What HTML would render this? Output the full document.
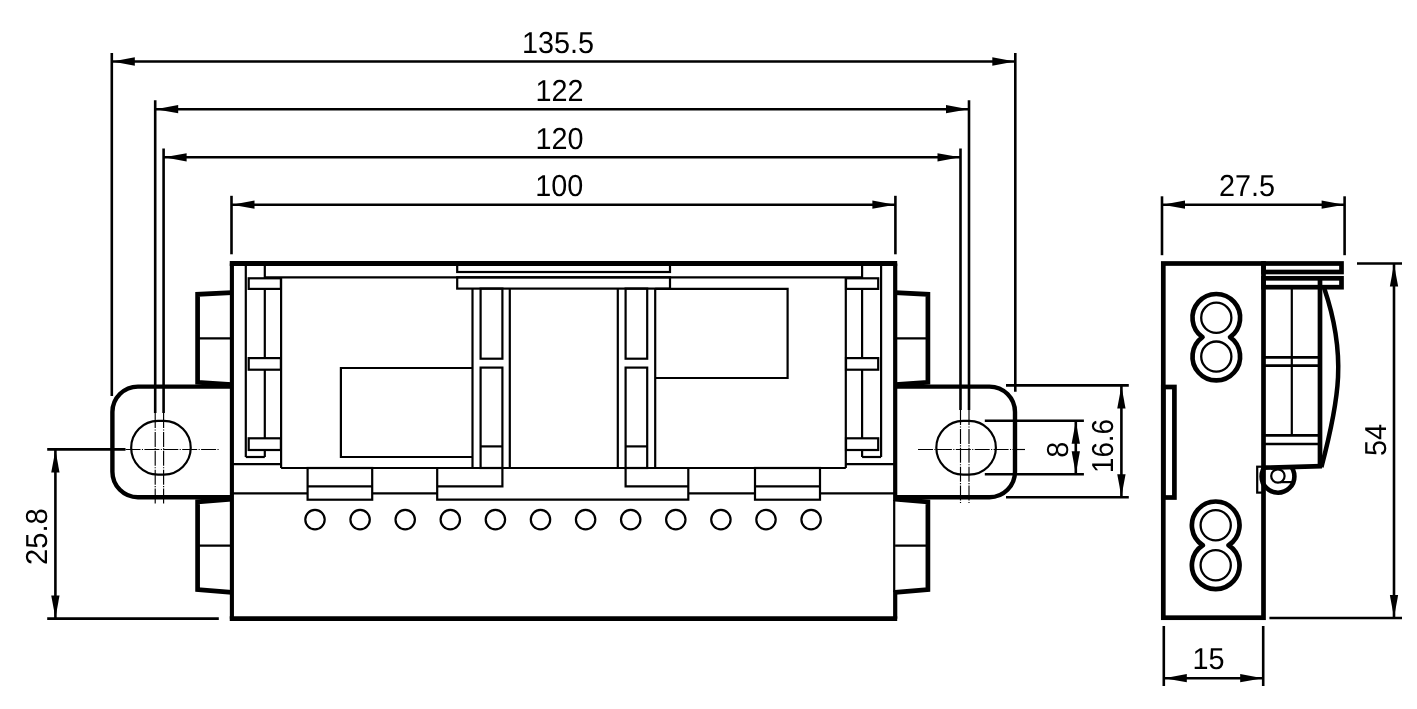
<!DOCTYPE html>
<html><head><meta charset="utf-8"><title>Dimension drawing</title>
<style>
html,body{margin:0;padding:0;background:#fff;}
svg{display:block;}
text{font-family:"Liberation Sans",sans-serif;font-size:30.3px;text-rendering:geometricPrecision;fill:#000;stroke:none;}
</style></head>
<body>
<svg width="1417" height="709" viewBox="0 0 1417 709" fill="none" stroke="#000" stroke-linecap="butt" stroke-linejoin="miter" style="filter:grayscale(1)">
<rect x="0" y="0" width="1417" height="709" fill="#fff" stroke="none"/>
<line x1="111.8" y1="53" x2="111.8" y2="396" stroke-width="2.6" />
<line x1="1015.3" y1="53" x2="1015.3" y2="391.8" stroke-width="2.6" />
<line x1="111.8" y1="61.5" x2="1015.3" y2="61.5" stroke-width="2.6" />
<polygon points="112.3,61.5 134.8,57.35 134.8,65.65" fill="#000" stroke="none"/>
<polygon points="1014.8,61.5 992.3,65.65 992.3,57.35" fill="#000" stroke="none"/>
<line x1="155.2" y1="100.3" x2="155.2" y2="413" stroke-width="2.6" />
<line x1="969" y1="100.3" x2="969" y2="410" stroke-width="2.6" />
<line x1="155.2" y1="109.2" x2="969" y2="109.2" stroke-width="2.6" />
<polygon points="155.7,109.2 178.2,105.05 178.2,113.35000000000001" fill="#000" stroke="none"/>
<polygon points="968.5,109.2 946.0,113.35000000000001 946.0,105.05" fill="#000" stroke="none"/>
<line x1="163.6" y1="148.4" x2="163.6" y2="413" stroke-width="2.6" />
<line x1="960.5" y1="148.4" x2="960.5" y2="410" stroke-width="2.6" />
<line x1="163.6" y1="157.3" x2="960.5" y2="157.3" stroke-width="2.6" />
<polygon points="164.1,157.3 186.6,153.15 186.6,161.45000000000002" fill="#000" stroke="none"/>
<polygon points="960.0,157.3 937.5,161.45000000000002 937.5,153.15" fill="#000" stroke="none"/>
<line x1="231.5" y1="195.8" x2="231.5" y2="254.3" stroke-width="2.6" />
<line x1="895.4" y1="195.8" x2="895.4" y2="254.3" stroke-width="2.6" />
<line x1="231.5" y1="204.7" x2="895.4" y2="204.7" stroke-width="2.6" />
<polygon points="232.0,204.7 254.5,200.54999999999998 254.5,208.85" fill="#000" stroke="none"/>
<polygon points="894.9,204.7 872.4,208.85 872.4,200.54999999999998" fill="#000" stroke="none"/>
<line x1="155.2" y1="413" x2="155.2" y2="504" stroke-width="1.15" stroke-dasharray="15 1.4 1.1 1.4"/>
<line x1="163.6" y1="413" x2="163.6" y2="504" stroke-width="1.15" stroke-dasharray="15 1.4 1.1 1.4"/>
<line x1="960.5" y1="410" x2="960.5" y2="504" stroke-width="1.15" stroke-dasharray="15 1.4 1.1 1.4"/>
<line x1="969" y1="410" x2="969" y2="504" stroke-width="1.15" stroke-dasharray="15 1.4 1.1 1.4"/>
<line x1="125.5" y1="449.5" x2="219" y2="449.5" stroke-width="1.15" stroke-dasharray="15 1.4 1.1 1.4"/>
<line x1="918" y1="449.5" x2="1025" y2="449.5" stroke-width="1.15" stroke-dasharray="15 1.4 1.1 1.4"/>
<line x1="47.2" y1="449.4" x2="125.5" y2="449.4" stroke-width="2.6" />
<line x1="47.2" y1="618.6" x2="218.8" y2="618.6" stroke-width="2.6" />
<line x1="55.4" y1="449.4" x2="55.4" y2="618.6" stroke-width="2.6" />
<polygon points="55.4,449.9 59.55,472.4 51.25,472.4" fill="#000" stroke="none"/>
<polygon points="55.4,618.1 51.25,595.6 59.55,595.6" fill="#000" stroke="none"/>
<line x1="1006" y1="385.4" x2="1128.8" y2="385.4" stroke-width="2.6" />
<line x1="1006" y1="497.2" x2="1128.8" y2="497.2" stroke-width="2.6" />
<line x1="1121.4" y1="385.4" x2="1121.4" y2="497.2" stroke-width="2.6" />
<polygon points="1121.4,385.9 1125.5500000000002,408.4 1117.25,408.4" fill="#000" stroke="none"/>
<polygon points="1121.4,496.7 1117.25,474.2 1125.5500000000002,474.2" fill="#000" stroke="none"/>
<line x1="984.8" y1="420.8" x2="1083.9" y2="420.8" stroke-width="2.6" />
<line x1="984.8" y1="474.3" x2="1083.9" y2="474.3" stroke-width="2.6" />
<line x1="1075.8" y1="420.8" x2="1075.8" y2="474.3" stroke-width="2.6" />
<polygon points="1075.8,421.3 1079.95,443.8 1071.6499999999999,443.8" fill="#000" stroke="none"/>
<polygon points="1075.8,473.8 1071.6499999999999,451.3 1079.95,451.3" fill="#000" stroke="none"/>
<path d="M231.8,292.6 L197.6,294.3 L197.6,382.3 L231.8,384.6" stroke-width="4.7" fill="none" stroke-linejoin="miter"/>
<line x1="197.6" y1="338.4" x2="231.8" y2="338.4" stroke-width="2.2" />
<path d="M231.8,499.2 L197.6,501.8 L197.6,589.5 L231.8,592.3" stroke-width="4.7" fill="none" stroke-linejoin="miter"/>
<line x1="197.6" y1="545.7" x2="231.8" y2="545.7" stroke-width="2.2" />
<path d="M895.1,292.6 L927.9,294.3 L927.9,382.3 L895.1,384.6" stroke-width="4.7" fill="none" stroke-linejoin="miter"/>
<line x1="927.9" y1="338.4" x2="895.1" y2="338.4" stroke-width="2.2" />
<path d="M895.1,499.2 L927.9,501.8 L927.9,589.5 L895.1,592.3" stroke-width="4.7" fill="none" stroke-linejoin="miter"/>
<line x1="927.9" y1="545.7" x2="895.1" y2="545.7" stroke-width="2.2" />
<path d="M231.8,386.6 L137.9,386.6 A25.5,25.5 0 0 0 112.4,412.1 L112.4,471.7 A25.5,25.5 0 0 0 137.9,497.2 L231.8,497.2" stroke-width="4.4" fill="none" />
<path d="M895.1,386.6 L989.5,386.6 A25.5,25.5 0 0 1 1015,412.1 L1015,471.7 A25.5,25.5 0 0 1 989.5,497.2 L895.1,497.2" stroke-width="4.4" fill="none" />
<path d="M157.95,420.95 L163.95,420.95 A26.8,26.8 0 0 1 163.95,474.55 L157.95,474.55 A26.8,26.8 0 0 1 157.95,420.95 Z" stroke-width="2.2" fill="none" />
<path d="M963.1,420.95 L969.1,420.95 A26.8,26.8 0 0 1 969.1,474.55 L963.1,474.55 A26.8,26.8 0 0 1 963.1,420.95 Z" stroke-width="2.2" fill="none" />
<line x1="229.75" y1="263.5" x2="897.2" y2="263.5" stroke-width="4.8" />
<line x1="229.75" y1="618.7" x2="897.2" y2="618.7" stroke-width="4.7" />
<line x1="231.9" y1="263.5" x2="231.9" y2="618.7" stroke-width="4.1" />
<line x1="895.2" y1="263.5" x2="895.2" y2="501" stroke-width="4.2" />
<line x1="895.2" y1="590.5" x2="895.2" y2="618.7" stroke-width="4.2" />
<line x1="894.2" y1="500" x2="894.2" y2="592" stroke-width="2.2" />
<line x1="245.8" y1="263.5" x2="245.8" y2="457" stroke-width="2.2" />
<line x1="264.8" y1="263.5" x2="264.8" y2="457" stroke-width="2.2" />
<line x1="245.8" y1="457" x2="264.8" y2="457" stroke-width="2.2" />
<line x1="231.8" y1="464.2" x2="281.1" y2="464.2" stroke-width="2.2" />
<line x1="881.1" y1="263.5" x2="881.1" y2="457" stroke-width="2.2" />
<line x1="862.1" y1="263.5" x2="862.1" y2="457" stroke-width="2.2" />
<line x1="881.1" y1="457" x2="862.1" y2="457" stroke-width="2.2" />
<line x1="895.1" y1="464.2" x2="845.8" y2="464.2" stroke-width="2.2" />
<line x1="264.8" y1="277.3" x2="862.1" y2="277.3" stroke-width="2.2" />
<line x1="281.1" y1="277.3" x2="281.1" y2="468" stroke-width="2.2" />
<line x1="845.8" y1="277.3" x2="845.8" y2="468" stroke-width="2.2" />
<line x1="281.1" y1="468" x2="845.8" y2="468" stroke-width="2.2" />
<rect x="248.7" y="278.3" width="32.2" height="10.6" stroke-width="2.2" fill="#fff"/>
<rect x="846.0" y="278.3" width="32.2" height="10.6" stroke-width="2.2" fill="#fff"/>
<rect x="248.7" y="358.1" width="32.2" height="11.6" stroke-width="2.2" fill="#fff"/>
<rect x="846.0" y="358.1" width="32.2" height="11.6" stroke-width="2.2" fill="#fff"/>
<rect x="248.7" y="438.3" width="32.2" height="11.7" stroke-width="2.2" fill="#fff"/>
<rect x="846.0" y="438.3" width="32.2" height="11.7" stroke-width="2.2" fill="#fff"/>
<rect x="457.2" y="263.5" width="212.8" height="8.5" stroke-width="2.2" fill="none"/>
<rect x="457.2" y="277.3" width="212.8" height="11.3" stroke-width="2.2" fill="none"/>
<line x1="472.5" y1="288.6" x2="472.5" y2="468" stroke-width="2.2" />
<line x1="509.8" y1="288.6" x2="509.8" y2="468" stroke-width="2.2" />
<line x1="617.8" y1="288.6" x2="617.8" y2="468" stroke-width="2.2" />
<line x1="655.2" y1="288.6" x2="655.2" y2="468" stroke-width="2.2" />
<rect x="480.6" y="288.6" width="21.8" height="70.1" stroke-width="2.2" fill="none"/>
<rect x="625.6" y="288.6" width="21.6" height="70.1" stroke-width="2.2" fill="none"/>
<rect x="480.6" y="367.6" width="21.8" height="100.4" stroke-width="2.2" fill="none"/>
<rect x="625.6" y="367.6" width="21.6" height="100.4" stroke-width="2.2" fill="none"/>
<line x1="480.6" y1="446.4" x2="502.4" y2="446.4" stroke-width="2.2" />
<line x1="625.6" y1="446.4" x2="647.2" y2="446.4" stroke-width="2.2" />
<path d="M472.5,368 L340.9,368 L340.9,457 L472.5,457" stroke-width="2.2" fill="none" />
<path d="M655.2,288.9 L787.6,288.9 L787.6,378 L655.2,378" stroke-width="2.2" fill="none" />
<rect x="307.6" y="468" width="64.6" height="31.7" stroke-width="2.2" fill="none"/>
<line x1="307.6" y1="486.4" x2="372.2" y2="486.4" stroke-width="2.2" />
<rect x="755" y="468" width="65" height="31.7" stroke-width="2.2" fill="none"/>
<line x1="755" y1="486.4" x2="820" y2="486.4" stroke-width="2.2" />
<path d="M437.2,468 L437.2,499.7 L688.3,499.7 L688.3,468" stroke-width="2.2" fill="none" />
<path d="M437.2,486.4 L502.4,486.4 L502.4,468" stroke-width="2.2" fill="none" />
<path d="M688.3,486.4 L625.6,486.4 L625.6,468" stroke-width="2.2" fill="none" />
<line x1="231.8" y1="493.4" x2="307.6" y2="493.4" stroke-width="2.2" />
<line x1="372.2" y1="493.4" x2="437.2" y2="493.4" stroke-width="2.2" />
<line x1="688.3" y1="493.4" x2="755" y2="493.4" stroke-width="2.2" />
<line x1="820" y1="493.4" x2="895.1" y2="493.4" stroke-width="2.2" />
<circle cx="315.0" cy="519.6" r="9.7" stroke-width="2.2"/>
<circle cx="360.1" cy="519.6" r="9.7" stroke-width="2.2"/>
<circle cx="405.2" cy="519.6" r="9.7" stroke-width="2.2"/>
<circle cx="450.3" cy="519.6" r="9.7" stroke-width="2.2"/>
<circle cx="495.4" cy="519.6" r="9.7" stroke-width="2.2"/>
<circle cx="540.5" cy="519.6" r="9.7" stroke-width="2.2"/>
<circle cx="585.6" cy="519.6" r="9.7" stroke-width="2.2"/>
<circle cx="630.7" cy="519.6" r="9.7" stroke-width="2.2"/>
<circle cx="675.8" cy="519.6" r="9.7" stroke-width="2.2"/>
<circle cx="720.9" cy="519.6" r="9.7" stroke-width="2.2"/>
<circle cx="766.0" cy="519.6" r="9.7" stroke-width="2.2"/>
<circle cx="811.1" cy="519.6" r="9.7" stroke-width="2.2"/>
<rect x="1257.2" y="466.7" width="6.3" height="25.9" stroke-width="2.2" fill="none"/>
<circle cx="1278" cy="476.4" r="16.4" stroke-width="4.6"/>
<polygon points="1263.5,430 1320,430 1320,466.6 1263.5,468" fill="#fff" stroke="none"/>
<circle cx="1277.9" cy="476.0" r="6.7" stroke-width="2.2"/>
<line x1="1280" y1="482.1" x2="1293" y2="482.1" stroke-width="2.2" />
<rect x="1163.3" y="263.5" width="100.2" height="354.2" stroke-width="4.7" fill="none"/>
<rect x="1163.3" y="387" width="11.1" height="110.5" stroke-width="4.7" fill="none"/>
<path d="M1202.51,337.20 A23.8,23.8 0 1 1 1230.09,337.20 A23.8,23.8 0 1 1 1202.51,337.20 Z" stroke-width="4.7" fill="none" stroke-linejoin="round"/>
<circle cx="1216.3" cy="317.8" r="15.1" stroke-width="2.3"/>
<circle cx="1216.3" cy="356.6" r="15.1" stroke-width="2.3"/>
<path d="M1202.80,545.30 A23.8,23.8 0 1 1 1228.60,545.30 A23.8,23.8 0 1 1 1202.80,545.30 Z" stroke-width="4.7" fill="none" stroke-linejoin="round"/>
<circle cx="1215.7" cy="525.3" r="15.1" stroke-width="2.3"/>
<circle cx="1215.7" cy="565.3" r="15.1" stroke-width="2.3"/>
<rect x="1263.5" y="263.5" width="78.0" height="8.5" stroke-width="4.7" fill="none"/>
<rect x="1263.5" y="278.3" width="78.0" height="8.9" stroke-width="4.7" fill="none"/>
<line x1="1320" y1="278.3" x2="1320" y2="467" stroke-width="4.7" />
<line x1="1291.8" y1="287.2" x2="1291.8" y2="436" stroke-width="2.2" />
<line x1="1263.5" y1="357.4" x2="1320" y2="357.4" stroke-width="2.6" />
<line x1="1263.5" y1="365.6" x2="1320" y2="365.6" stroke-width="2.6" />
<line x1="1263.5" y1="435.4" x2="1320" y2="435.4" stroke-width="2.8" />
<line x1="1263.5" y1="444" x2="1320" y2="444" stroke-width="2.6" />
<path d="M1263.5,467.7 L1322,466.2" stroke-width="4.7" fill="none" stroke-linecap="butt"/>
<path d="M1324.3,288.5 C1346.8,354.7 1339.4,399.2 1321.4,467.2" stroke-width="4.5" fill="none" />
<line x1="1162" y1="196.3" x2="1162" y2="255.2" stroke-width="2.6" />
<line x1="1344.6" y1="196.3" x2="1344.6" y2="255.2" stroke-width="2.6" />
<line x1="1162" y1="204.7" x2="1344.6" y2="204.7" stroke-width="2.6" />
<polygon points="1162.5,204.7 1185.0,200.54999999999998 1185.0,208.85" fill="#000" stroke="none"/>
<polygon points="1344.1,204.7 1321.6,208.85 1321.6,200.54999999999998" fill="#000" stroke="none"/>
<line x1="1357" y1="263.5" x2="1402" y2="263.5" stroke-width="2.6" />
<line x1="1269.4" y1="618" x2="1402" y2="618" stroke-width="2.6" />
<line x1="1394" y1="263.5" x2="1394" y2="618" stroke-width="2.6" />
<polygon points="1394,264.0 1398.15,286.5 1389.85,286.5" fill="#000" stroke="none"/>
<polygon points="1394,617.5 1389.85,595.0 1398.15,595.0" fill="#000" stroke="none"/>
<line x1="1163.8" y1="626" x2="1163.8" y2="686" stroke-width="2.6" />
<line x1="1263.2" y1="626" x2="1263.2" y2="686" stroke-width="2.6" />
<line x1="1163.8" y1="678.2" x2="1263.2" y2="678.2" stroke-width="2.6" />
<polygon points="1164.3,678.2 1186.8,674.0500000000001 1186.8,682.35" fill="#000" stroke="none"/>
<polygon points="1262.7,678.2 1240.2,682.35 1240.2,674.0500000000001" fill="#000" stroke="none"/>
<text transform="translate(558,53.2) scale(0.95,1)" text-anchor="middle">135.5</text>
<text transform="translate(559.5,100.8) scale(0.95,1)" text-anchor="middle">122</text>
<text transform="translate(559.6,149) scale(0.95,1)" text-anchor="middle">120</text>
<text transform="translate(559.2,196.4) scale(0.95,1)" text-anchor="middle">100</text>
<text transform="translate(1247,196.3) scale(0.95,1)" text-anchor="middle">27.5</text>
<text transform="translate(1208.5,669.4) scale(0.95,1)" text-anchor="middle">15</text>
<text transform="translate(47.4,536.6) rotate(-90) scale(0.96,1)" text-anchor="middle">25.8</text>
<text transform="translate(1068.2,449.8) rotate(-90) scale(0.95,1)" text-anchor="middle">8</text>
<text transform="translate(1113.2,446.0) rotate(-90) scale(0.915,1)" text-anchor="middle">16.6</text>
<text transform="translate(1386,440) rotate(-90) scale(0.95,1)" text-anchor="middle">54</text>
</svg>
</body></html>
